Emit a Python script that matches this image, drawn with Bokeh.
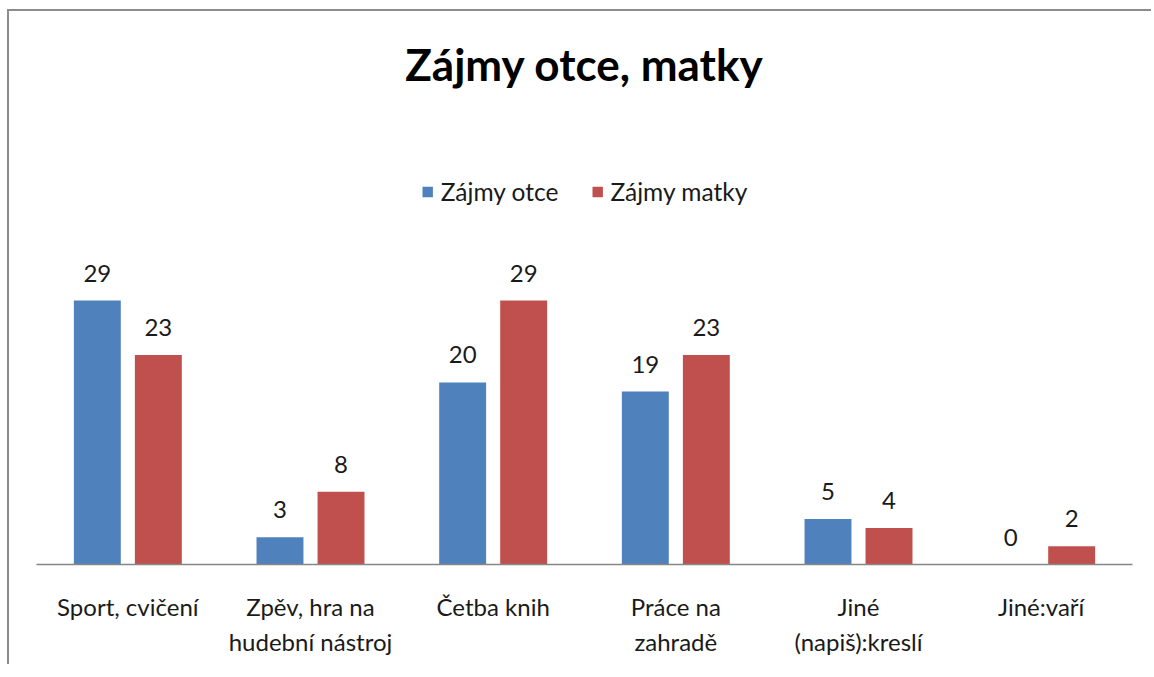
from bokeh.plotting import figure
from bokeh.models import ColumnDataSource, FactorRange, Range1d, Legend, LegendItem, LabelSet
from bokeh.core.properties import value
from bokeh.transform import dodge
from bokeh.embed import file_html
from bokeh.resources import INLINE

categories = ["Sport, cvičení", "Zpěv, hra na\nhudební nástroj", "Četba knih",
              "Práce na\nzahradě", "Jiné\n(napiš):kreslí", "Jiné:vaří"]
otec = [29, 3, 20, 19, 5, 0]
matka = [23, 8, 29, 23, 4, 2]
series_names = ["Zájmy otce", "Zájmy matky"]
colors = ["#4F81BD", "#C0504D"]

FONT = "Lato"
FS = "24px"

src = ColumnDataSource(dict(cat=categories, otec=otec, matka=matka,
                            otec_t=[str(v) for v in otec],
                            matka_t=[str(v) for v in matka]))

p = figure(x_range=FactorRange(*categories, range_padding=0),
           y_range=Range1d(0, 50.86),
           width=1144, height=655, output_backend="svg", toolbar_location=None,
           min_border_left=27, min_border_right=21, min_border_bottom=102, min_border_top=90)
p.styles = {"border-top": "2px solid #8c8c8c", "border-left": "2px solid #8c8c8c",
            "margin-top": "9px", "margin-left": "7px"}

p.title.text = "Zájmy otce, matky"
p.title.align = "center"
p.title.text_font = FONT
p.title.text_font_size = "44px"
p.title.text_font_style = "bold"
p.title.text_color = "#000000"
p.title.standoff = 24

off = 0.167
w = 0.257
r1 = p.vbar(x=dodge("cat", -off, range=p.x_range), top="otec", width=w, bottom=0,
            source=src, fill_color=colors[0], line_color=None)
r2 = p.vbar(x=dodge("cat", off, range=p.x_range), top="matka", width=w, bottom=0,
            source=src, fill_color=colors[1], line_color=None)

for col, dx in (("otec", -off), ("matka", off)):
    p.add_layout(LabelSet(x=dodge("cat", dx, range=p.x_range), y=col, text=col + "_t",
                          source=src, text_align="center", text_baseline="alphabetic",
                          y_offset=19, text_font=value(FONT), text_font_size=value(FS),
                          text_color="#1a1a1a"))

legend = Legend(items=[LegendItem(label=series_names[0], renderers=[r1]),
                       LegendItem(label=series_names[1], renderers=[r2])],
                location="top_center", orientation="horizontal",
                glyph_width=13, glyph_height=13, label_standoff=7, spacing=32,
                label_text_font=FONT, label_text_font_size="24.5px", label_text_color="#1a1a1a",
                label_height=25, padding=0, margin=76,
                border_line_color=None, background_fill_alpha=0)
p.add_layout(legend, "center")

p.yaxis.visible = False
p.xgrid.visible = False
p.ygrid.visible = False
p.outline_line_color = None
p.xaxis.axis_line_color = "#868686"
p.xaxis.axis_line_width = 1.5
p.xaxis.major_tick_line_color = None
p.xaxis.minor_tick_line_color = None
p.xaxis.major_label_text_font = FONT
p.xaxis.major_label_text_font_size = FS
p.xaxis.major_label_text_color = "#1a1a1a"
p.xaxis.major_label_standoff = 21
p.xaxis.major_label_text_line_height = 1.22

open("out.html", "w").write(file_html(p, INLINE))
